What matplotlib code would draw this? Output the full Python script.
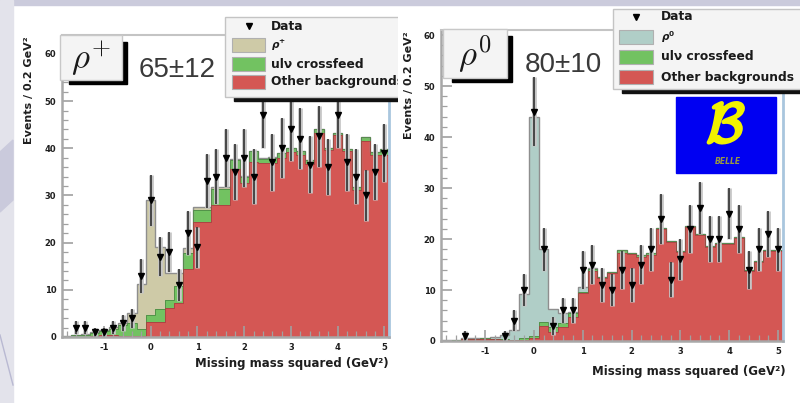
import numpy as np
import matplotlib
matplotlib.use('Agg')
import matplotlib.pyplot as plt
from matplotlib.patches import Rectangle, Polygon
from matplotlib.ticker import MultipleLocator
from matplotlib import font_manager
import matplotlib.patheffects as pe

W, H = 800, 403

# binning of both histograms: 0.2 GeV^2 bins from -1.9 to 5.1
edges = np.linspace(-1.9, 5.1, 36)
centers = 0.5 * (edges[:-1] + edges[1:])

# rho+ channel (left plot), events per bin
rp_data = [0, 2, 2, 1, 1, 2, 3, 4, 13, 29, 17, 18, 11, 22, 19, 33, 34, 38, 35, 38,
           34, 47, 37, 40, 44, 42, 36.5, 42.5, 36, 47, 37, 34, 30, 35, 39]
rp_other = [0, 0, 0, 0.2, 0.4, 0.5, 0.3, 0.2, 0.2, 3.2, 3.2, 6.1, 7.3, 14.5, 24.4, 24.4, 28.0, 28.0,
            35.5, 32.6, 37.1, 36.8, 36.8, 37.9, 39.3, 38.6, 36.7, 43.2, 39.6, 42.8, 39.4, 31.2, 41.5, 38.6, 38.6]
rp_xfeed = [0.2, 0.4, 0.5, 0.7, 0.8, 1.3, 2.2, 2.7, 1.5, 1.4, 2.7, 1.7, 3.5, 3.2, 2.5, 2.5, 3.3, 3.3,
            2.1, 1.4, 2.3, 1.0, 1.2, 1.0, 0.7, 0.8, 0.8, 0.8, 0.5, 0.5, 0.4, 0.6, 0.9, 0.6, 1.2]
rp_signal = [0, 0.1, 0.1, 0.1, 0.2, 0.3, 0.5, 2.2, 9.5, 24.4, 13.2, 5.7, 2.7, 1.1, 0.7, 0.7, 0.4, 0.4,
             0.2, 0.2, 0.1, 0.1, 0.1, 0.1, 0, 0, 0, 0, 0, 0, 0, 0, 0, 0, 0]
rp_yield = '65±12'

# rho0 channel (right plot)
r0_data = [0, 0, 1, 0, 0, 0, 1, 4, 10, 45, 18, 3, 6, 6, 14, 15, 11, 10, 14, 11,
           15, 18, 24, 12, 16, 22, 26, 20, 20, 25, 22, 14, 18, 21, 18]
r0_other = [0, 0, 0.3, 0.3, 0.4, 0.3, 0.2, 0.1, 0.2, 0.6, 2.9, 1.8, 2.8, 4.8, 9.5, 13.8, 12.3, 13.3,
            17.3, 17.0, 16.5, 16.9, 22.0, 19.4, 17.4, 22.3, 20.8, 18.4, 19.0, 19.0, 20.2, 13.7, 15.5, 17.7, 17.7]
r0_xfeed = [0, 0.1, 0.1, 0.1, 0.1, 0.1, 0.1, 0.1, 0.3, 0.3, 0.9, 1.0, 0.8, 0.6, 0.2, 0.4, 0.3, 0.3,
            0.5, 0.3, 0.3, 0.3, 0.2, 0.2, 0.2, 0.2, 0.2, 0.2, 0.2, 0.2, 0.2, 0.2, 0.2, 0.2, 0.2]
r0_signal = [0.1, 0.1, 0.1, 0.1, 0.1, 0.3, 0.8, 1.9, 8.8, 43.0, 14.3, 3.4, 1.9, 0.3, 0.9, 0.2, 0, 0,
             0, 0, 0, 0, 0, 0, 0, 0, 0, 0, 0, 0, 0, 0, 0, 0, 0]
r0_yield = '80±10'

leg_labels = ['Data', 'ulν crossfeed', 'Other backgrounds']

RED = '#d45754'
GREEN = '#72c261'
BEIGE = '#cecaa7'
TEAL = '#b0cec7'

# ROOT-ish narrow bold font if we have it
names = {f.name for f in font_manager.fontManager.ttflist}
if 'Liberation Sans Narrow' in names:
    plt.rcParams['font.family'] = ['Liberation Sans Narrow', 'DejaVu Sans']
    FS_TICK, FS_XLAB, FS_YLAB, FS_LEG = 7, 11.5, 11, 12.5
else:
    plt.rcParams['font.family'] = ['DejaVu Sans']
    FS_TICK, FS_XLAB, FS_YLAB, FS_LEG = 6, 8.5, 8, 8.8
plt.rcParams['font.weight'] = 'bold'
plt.rcParams['axes.unicode_minus'] = False
plt.rcParams['mathtext.fontset'] = 'dejavusans'

fig = plt.figure(figsize=(W / 100, H / 100), dpi=100, facecolor='white')


def px_axes(x0, y0, x1, y1, **kw):
    return fig.add_axes([x0 / W, 1 - y1 / H, (x1 - x0) / W, (y1 - y0) / H], **kw)


def overlay(x0, x1, z=5):
    ov = fig.add_axes([x0 / W, 0, (x1 - x0) / W, 1], zorder=z)
    ov.set_xlim(x0, x1)
    ov.set_ylim(H, 0)
    ov.set_axis_off()
    return ov


# slide background
bg = overlay(0, W, z=-5)
bg.add_patch(Rectangle((0, 0), W, 5, color='#cbcbdc'))
bg.add_patch(Rectangle((0, 0), 13, H, color='#e3e3eb'))
bg.add_patch(Polygon([(0, 152), (13, 140), (13, 200), (0, 212)], color='#cacadc'))
bg.plot([0, 13], [335, 385], color='#b9b9d2', lw=1)


def panel(ax, other, xfeed, signal, data, sig_color, ymax):
    other = np.array(other)
    low = other + np.array(xfeed)
    tot = low + np.array(signal)
    ax.stairs(tot, edges, fill=True, color=sig_color)
    ax.stairs(low, edges, fill=True, color=GREEN)
    ax.stairs(other, edges, fill=True, color=RED)
    ax.stairs(tot, edges, color='#8e8e8e', lw=1.0)
    ax.stairs(low, edges, color='#4e8a45', lw=0.6)
    ax.stairs(other, edges, color='#a44240', lw=0.6)

    d = np.array(data, float)
    m = d > 0
    ax.errorbar(centers[m], d[m], yerr=np.sqrt(d[m]), fmt='none', ecolor='#c6c6c6', elinewidth=3.4)
    ax.errorbar(centers[m], d[m], yerr=np.sqrt(d[m]), fmt='v', color='black', ms=5,
                ecolor='#3c3c3c', elinewidth=1.3)

    ax.set_xlim(edges[0], edges[-1])
    ax.set_ylim(0, ymax)
    ax.xaxis.set_major_locator(MultipleLocator(1))
    ax.xaxis.set_minor_locator(MultipleLocator(0.2))
    ax.yaxis.set_major_locator(MultipleLocator(10))
    ax.yaxis.set_minor_locator(MultipleLocator(2))
    ax.tick_params(which='both', direction='in', color='#a0a0a0', labelsize=FS_TICK,
                   labelcolor='#1e1e1e', top=False, right=False)
    ax.tick_params(which='major', length=8, width=1.2, pad=4)
    ax.tick_params(which='minor', length=4, width=0.9)
    for s in ['left', 'bottom']:
        ax.spines[s].set_color('#a8a8a8')
        ax.spines[s].set_linewidth(1.8)
    ax.spines['top'].set_color('#c4c4c4')
    ax.spines['top'].set_linewidth(1.5)
    ax.spines['right'].set_color('#a9c6de')
    ax.spines['right'].set_linewidth(2)


axL = px_axes(62, 35, 389, 337, zorder=1)
panel(axL, rp_other, rp_xfeed, rp_signal, rp_data, BEIGE, 64)
axR = px_axes(441, 30, 783, 341, zorder=1)
panel(axR, r0_other, r0_xfeed, r0_signal, r0_data, TEAL, 61)

ovL = overlay(0, 398)
ovR = overlay(398, W)


def decorate(ov, box, ylab_x, ylab_y, xlab_x, xlab_y, chan, yld, yld_xy, leg, sig_color):
    # axis titles
    ov.text(ylab_x, ylab_y, 'Events / 0.2 GeV²', rotation=90, ha='center', va='top',
            fontsize=FS_YLAB, color='#1e1e1e')
    ov.text(xlab_x, xlab_y, 'Missing mass squared (GeV²)', ha='right', va='center',
            fontsize=FS_XLAB, color='#1e1e1e')
    # channel box with a thin black shadow right and below
    x0, y0, x1, y1 = box
    ov.add_patch(Rectangle((x0 + 9, y0 + 7), x1 - x0 - 9, y1 - y0 - 7, color='black'))
    ov.add_patch(Rectangle((x0, y0), x1 - x0 - 5, y1 - y0 - 4, fc='#f4f4f4', ec='#c8c8c8', lw=1))
    ov.text((x0 + x1 - 5) / 2, (y0 + y1 - 4) / 2 + 1, chan, ha='center', va='center',
            fontsize=25, color='#1a1a1a', math_fontfamily='cm')
    ov.text(yld_xy[0], yld_xy[1], yld, ha='center', va='center', fontsize=20,
            fontweight='normal', family=['Liberation Sans', 'DejaVu Sans'], color='#3a3a3a')
    # legend with shadow
    lx0, ly0, lx1, ly1, rows, pxs, tx = leg
    ov.add_patch(Rectangle((lx0 + 9, ly1 - 2), lx1 - lx0, 6, color='#111111'))
    ov.add_patch(Rectangle((lx0, ly0), lx1 - lx0, ly1 - ly0, fc='#f4f4f4', ec='#c4c4c4', lw=1))
    ov.plot([(pxs[0] + pxs[1]) / 2], [rows[0]], 'v', color='black', ms=5)
    for y, c in zip(rows[1:], [sig_color, GREEN, RED]):
        ov.add_patch(Rectangle((pxs[0], y - 7), pxs[1] - pxs[0], 14, fc=c, ec='#b0b0b0', lw=0.8))
    texts = [leg_labels[0], chan] + leg_labels[1:]
    for y, t in zip(rows, texts):
        fs = FS_LEG * 0.85 if '$' in t else FS_LEG
        ov.text(tx, y, t, ha='left', va='center', color='#1a1a1a', clip_on=True, fontsize=fs)


decorate(ovL, (60, 35, 127, 84), 29, 36, 389, 363, r'$\rho^{+}$', rp_yield, (177, 70),
         (225, 17, 402, 97, [26, 45, 64, 82], (232, 265), 271), BEIGE)
decorate(ovR, (443, 29, 512, 82), 409, 31, 786, 371, r'$\rho^{0}$', r0_yield, (563, 65),
         (613, 9, 802, 89, [17, 37, 57, 77], (619, 653), 661), TEAL)

# Belle logo
ovR.add_patch(Rectangle((676, 97), 100, 76, color='#0000f2'))
ovR.text(726, 127, r'$\mathcal{B}$', ha='center', va='center', fontsize=40, color='#f2f200',
         math_fontfamily='cm', path_effects=[pe.withStroke(linewidth=2.2, foreground='#f2f200')])
ovR.text(728, 162, 'BELLE', ha='center', va='center', fontsize=5.5, style='italic',
         color='#9a9a40', family=['DejaVu Sans'])

fig.savefig('out.png', dpi=100, facecolor='white')
